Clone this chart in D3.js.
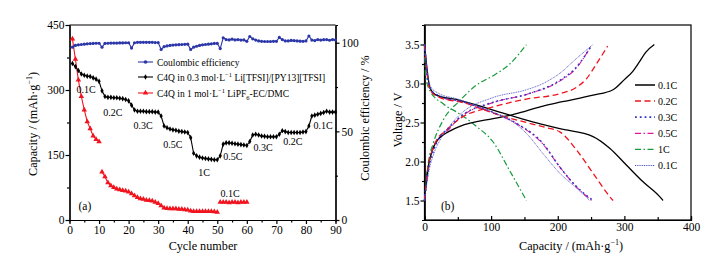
<!DOCTYPE html>
<html><head><meta charset="utf-8">
<script src="https://cdn.jsdelivr.net/npm/d3@7"></script>
<style>
body{margin:0;background:#fff;}
svg, svg text{font-family:"Liberation Serif","Tinos","Times New Roman","DejaVu Serif",serif !important;}
</style></head>
<body><svg id="c" width="712" height="266"></svg>
<script>
// ---------- Data: panel (a) ----------
const cycles = d3.range(1, 91);
const coulombicEff = [97.5,98.5,98.8,99.0,99.2,99.4,99.5,99.6,99.7,99.7,
 97.5,99.6,99.7,99.8,99.8,99.8,99.9,99.9,100.0,100.0,
 97.0,100.0,100.2,100.2,100.2,100.2,100.2,100.2,100.1,100.1,
 96.2,97.8,98.2,98.5,98.7,98.8,98.9,99.0,99.1,99.2,
 96.2,97.5,98.0,98.5,98.8,99.0,99.2,99.4,99.6,99.6,
 96.7,102.8,101.8,101.6,102.0,101.6,101.8,101.5,101.6,100.8,
 103.5,102.2,101.5,101.0,100.8,100.7,100.7,100.7,100.8,100.8,
 103.0,101.8,101.0,101.0,101.3,101.2,101.0,100.9,100.8,101.0,
 103.8,101.5,101.2,101.8,101.5,101.7,101.8,101.4,101.8,101.6];
const capIL = [361,354,345,337,334,332,331,328,325,320,
 298,285,283,283,282,282,281,280,278,275,
 265,254,251,251,251,250,250,250,249,249,
 240,217,213,210,208,207,205,204,203,202,
 190,154,148,145,143,142,141,140,139,139,
 148,175,178,178,177,176,175,174,173,172,
 181,196,198,196,194,193,192,192,192,192,
 198,206,204,202,202,202,202,202,203,204,
 217,240,242,244,246,248,251,249,249,249];
const capEC_c1 = d3.range(1, 11);
const capEC_v1 = [418,371,323,285,254,227,211,194,186,181];
const capEC_c2 = d3.range(11, 51);
const capEC_v2 = [111,100,86,79,75,72,70,68,67,65,61,56,52,49,48,46,45,44,41,38,
 33,28,27,26,26,26,25,25,24,23,21,20,20,20,20,20,20,20,19,18];
const capEC_c3 = d3.range(51, 61);
const capEC_v3 = [41,41,41,40,41,41,40,41,41,41];
const rateLabelsA = ["0.1C","0.2C","0.3C","0.5C","1C","0.5C","0.3C","0.2C","0.1C","0.1C"];
const rateLabelCycles = [5.6,14.7,24.9,35,45.5,55.3,65.5,75.6,85.8,54.3];
const rateLabelCaps = [292,239,209,167,102.5,139,160,172,211,54];
const legendA = ["Coulombic efficiency","C4Q in 0.3 mol·L","C4Q in 1 mol·L"];
const xTicksA = d3.range(0, 91, 10);
const yTicksA = [0,150,300,450];
const y2TicksA = [0,50,100];

// ---------- Data: panel (b) ----------
const ratesB = ["0.1C","0.2C","0.3C","0.5C","1C","0.1C"];
const dis_01 = [[0,3.5],[1,3.42],[3.5,3.21],[8,2.95],[18,2.85],[53,2.785],[103,2.66],[153,2.53],[203,2.42],[253,2.32],[278,2.17],[303,1.955],[328,1.74],[353,1.55],[358,1.5]];
const chg_01 = [[0,1.5],[5,1.9],[12,2.15],[20,2.28],[28,2.34],[40,2.4],[53,2.45],[103,2.55],[128,2.59],[153,2.65],[178,2.71],[203,2.76],[253,2.85],[283,2.92],[300,3.05],[312,3.15],[322,3.27],[332,3.4],[345,3.5]];
const dis_02 = [[0,3.5],[2,3.3],[5,3.05],[10,2.9],[20,2.83],[60,2.75],[110,2.6],[153,2.5],[180,2.44],[203,2.38],[228,2.15],[253,1.85],[278,1.55],[283,1.5]];
const chg_02 = [[0,1.5],[5,1.9],[12,2.15],[20,2.3],[30,2.38],[53,2.55],[103,2.7],[153,2.8],[203,2.87],[228,2.95],[243,3.06],[258,3.25],[275,3.48]];
const dis_03 = [[0,3.5],[2,3.3],[5,3.05],[10,2.92],[20,2.85],[60,2.76],[103,2.63],[140,2.48],[178,2.23],[203,1.93],[228,1.68],[253,1.5]];
const chg_03 = [[0,1.5],[5,1.85],[12,2.1],[22,2.3],[35,2.42],[53,2.57],[103,2.76],[153,2.86],[203,3.04],[228,3.21],[251,3.49]];
const dis_05 = [[0,3.5],[5,3.05],[10,2.91],[20,2.84],[60,2.755],[103,2.625],[140,2.475],[178,2.22],[203,1.93],[228,1.675],[251,1.5]];
const chg_05 = [[0,1.5],[5,1.9],[12,2.15],[22,2.3],[35,2.4],[53,2.56],[103,2.755],[153,2.86],[203,3.03],[228,3.2],[250,3.48]];
const dis_1 = [[0,3.5],[1,3.2],[2,3.08],[8,2.91],[28,2.74],[53,2.61],[78,2.45],[103,2.25],[128,1.88],[153,1.5]];
const chg_1 = [[0,1.5],[3,1.8],[6,2.0],[13,2.23],[28,2.53],[53,2.78],[78,2.98],[103,3.1],[128,3.25],[153,3.5]];
const dis_01b = [[0,3.5],[2,3.35],[5,3.1],[10,2.95],[20,2.88],[50,2.8],[103,2.63],[125,2.55],[153,2.36],[178,2.1],[203,1.85],[228,1.66],[248,1.5]];
const chg_01b = [[0,1.5],[6,1.85],[14,2.1],[25,2.3],[40,2.48],[53,2.6],[103,2.82],[153,2.92],[178,3.0],[203,3.13],[228,3.32],[253,3.5]];
const xTicksB = [0,100,200,300,400];
const yTicksB = [1.5,2.0,2.5,3.0,3.5];

const FONT = "Liberation Serif, Tinos, Times New Roman, DejaVu Serif, serif";
const svg = d3.select("#c").attr("font-family", FONT);
const BLUE = "#2b36a8", RED = "#f0141e";
const TICKFS = 11.5, TITLEFS = 12.2, SMALLFS = 10, LEGFS = 9.5;

// ================= Panel (a) =================
const xA = d3.scaleLinear().domain([0, 90]).range([69.5, 335.5]);
const yA = d3.scaleLinear().domain([0, 450]).range([220, 25]);
const y2A = d3.scaleLinear().domain([0, 110]).range([220, 25]);
const gA = svg.append("g");

function axisStyle(g){
  g.attr("font-family", FONT);
  g.selectAll("path,line").attr("stroke","#000").attr("stroke-width",1.2);
  g.selectAll("text").attr("font-family",FONT).attr("font-size",TICKFS).attr("fill","#000"); }

// minor ticks
gA.append("g").attr("transform","translate(0,220)")
  .call(d3.axisBottom(xA).tickValues(d3.range(5,90,10)).tickSize(2.5).tickFormat(""))
  .call(axisStyle);
gA.append("g").attr("transform","translate(69.5,0)")
  .call(d3.axisLeft(yA).tickValues([75,225,375]).tickSize(2.5).tickFormat(""))
  .call(axisStyle);
gA.append("g").attr("transform","translate(335.5,0)")
  .call(d3.axisRight(y2A).tickValues([25,75]).tickSize(2.5).tickFormat(""))
  .call(axisStyle);
gA.append("g").attr("transform","translate(0,220)")
  .call(d3.axisBottom(xA).tickValues(xTicksA).tickSize(4).tickSizeOuter(0).tickPadding(2))
  .call(axisStyle);
gA.append("g").attr("transform","translate(69.5,0)")
  .call(d3.axisLeft(yA).tickValues(yTicksA).tickSize(4).tickSizeOuter(0).tickPadding(1))
  .call(axisStyle);
gA.append("g").attr("transform","translate(335.5,0)")
  .call(d3.axisRight(y2A).tickValues(y2TicksA).tickSize(4).tickSizeOuter(0).tickPadding(2))
  .call(axisStyle);
gA.append("line").attr("x1",69.5).attr("x2",335.5).attr("y1",25).attr("y2",25).attr("stroke","#000").attr("stroke-width",1.2);

const lineA = d3.line().x(d=>xA(d[0])).y(d=>yA(d[1]));
const lineA2 = d3.line().x(d=>xA(d[0])).y(d=>y2A(d[1]));

// red series (EC/DMC)
const redSegs = [[capEC_c1,capEC_v1],[capEC_c2,capEC_v2],[capEC_c3,capEC_v3]];
const triangle = d3.symbol().type(d3.symbolTriangle).size(13);
redSegs.forEach(([c,v])=>{
  const pts = c.map((ci,i)=>[ci,v[i]]);
  gA.append("path").attr("d",lineA(pts)).attr("fill","none").attr("stroke",RED).attr("stroke-width",1.1);
  gA.selectAll(null).data(pts).join("path").attr("d",triangle)
    .attr("transform",d=>`translate(${xA(d[0])},${yA(d[1])})`).attr("fill",RED);
});
// black series (IL)
const ilPts = cycles.map((c,i)=>[c,capIL[i]]);
gA.append("path").attr("d",lineA(ilPts)).attr("fill","none").attr("stroke","#000").attr("stroke-width",1.1);
const diamond = d3.symbol().type(d3.symbolDiamond).size(9);
gA.selectAll(null).data(ilPts).join("path").attr("d",diamond)
  .attr("transform",d=>`translate(${xA(d[0])},${yA(d[1])})`).attr("fill","#000");
// blue series (CE)
const cePts = cycles.map((c,i)=>[c,coulombicEff[i]]);
gA.append("path").attr("d",lineA2(cePts)).attr("fill","none").attr("stroke",BLUE).attr("stroke-width",1.1);
gA.selectAll(null).data(cePts).join("circle").attr("cx",d=>xA(d[0])).attr("cy",d=>y2A(d[1]))
  .attr("r",1.6).attr("fill",BLUE);

// rate labels
rateLabelsA.forEach((t,i)=>{
  gA.append("text").attr("x",xA(rateLabelCycles[i])).attr("y",yA(rateLabelCaps[i]))
    .attr("text-anchor","middle").attr("font-size",SMALLFS).text(t);
});
gA.append("text").attr("x",xA(5.2)).attr("y",yA(23)).attr("text-anchor","middle").attr("font-size",11.5).text("(a)");

// legend (a)
const legY = [62,77,93];
const legCols = [BLUE,"#000",RED];
legY.forEach((y,i)=>{
  gA.append("line").attr("x1",138).attr("x2",153).attr("y1",y).attr("y2",y).attr("stroke",legCols[i]).attr("stroke-width",1.1);
  if(i===0) gA.append("circle").attr("cx",145.5).attr("cy",y).attr("r",1.8).attr("fill",BLUE);
  else gA.append("path").attr("d",i===1?diamond:triangle).attr("transform",`translate(145.5,${y})`).attr("fill",legCols[i]);
});
const lt = gA.append("g").attr("font-size",LEGFS);
lt.append("text").attr("x",157).attr("y",legY[0]+3.5).text(legendA[0]);
const t2 = lt.append("text").attr("x",157).attr("y",legY[1]+3.5);
t2.append("tspan").text(legendA[1]);
t2.append("tspan").attr("font-size",6.5).attr("dy",-4).text("−1");
t2.append("tspan").attr("dy",4).text(" Li[TFSI]/[PY13][TFSI]");
const t3 = lt.append("text").attr("x",157).attr("y",legY[2]+3.5);
t3.append("tspan").text(legendA[2]);
t3.append("tspan").attr("font-size",6.5).attr("dy",-4).text("−1");
t3.append("tspan").attr("dy",4).text(" LiPF");
t3.append("tspan").attr("font-size",6.5).attr("dy",3).text("6");
t3.append("tspan").attr("dy",-3).text("-EC/DMC");

// axis titles (a)
gA.append("text").attr("x",203).attr("y",250).attr("text-anchor","middle").attr("font-size",TITLEFS).text("Cycle number");
const yl = gA.append("text").attr("transform","translate(37,124) rotate(-90)").attr("text-anchor","middle").attr("font-size",TITLEFS);
yl.append("tspan").text("Capacity / (mAh·g");
yl.append("tspan").attr("font-size",8).attr("dy",-5).text("−1");
yl.append("tspan").attr("dy",5).text(")");
gA.append("text").attr("transform","translate(369,118) rotate(-90)").attr("text-anchor","middle").attr("font-size",TITLEFS).text("Coulombic efficiency / %");

// ================= Panel (b) =================
const xB = d3.scaleLinear().domain([0, 400]).range([424.5, 691]);
const yB = d3.scaleLinear().domain([1.25, 3.75]).range([220, 25]);
const gB = svg.append("g");
gB.append("g").attr("transform","translate(0,220)")
  .call(d3.axisTop(xB).tickValues([50,150,250,350]).tickSize(3).tickFormat(""))
  .call(axisStyle);
gB.append("g").attr("transform","translate(424.5,0)")
  .call(d3.axisLeft(yB).tickValues([1.75,2.25,2.75,3.25]).tickSize(2.5).tickFormat(""))
  .call(axisStyle);
gB.append("g").attr("transform","translate(0,220)")
  .call(d3.axisTop(xB).tickValues(xTicksB).tickSize(4).tickSizeOuter(0).tickPadding(-15))
  .call(axisStyle);
gB.append("g").attr("transform","translate(424.5,0)")
  .call(d3.axisLeft(yB).tickValues(yTicksB).tickSize(4).tickSizeOuter(0).tickPadding(1).tickFormat(d3.format(".1f")))
  .call(axisStyle);
gB.append("rect").attr("x",424.5).attr("y",25).attr("width",691-424.5).attr("height",195)
  .attr("fill","none").attr("stroke","#000").attr("stroke-width",1.2);

const lineB = d3.line().x(d=>xB(d[0])).y(d=>yB(d[1])).curve(d3.curveMonotoneX);
const seriesB = [
  {name:ratesB[3], d:[dis_05,chg_05], color:"#e0179b", dash:"6,2.5,1.5,2.5", w:1.1},
  {name:ratesB[4], d:[dis_1,chg_1], color:"#159a3c", dash:"6,2.5,1.5,2.5", w:1.2},
  {name:ratesB[0], d:[dis_01,chg_01], color:"#000", dash:null, w:1.3},
  {name:ratesB[1], d:[dis_02,chg_02], color:RED, dash:"6,3.5", w:1.3},
  {name:ratesB[2], d:[dis_03,chg_03], color:"#2e33c8", dash:"1.8,3", w:1.5},
  {name:ratesB[5], d:[dis_01b,chg_01b], color:"#4a4fc0", dash:"1,0.8", w:0.9}
];
seriesB.forEach(s=>{
  s.d.forEach(pts=>{
    gB.append("path").attr("d",lineB(pts)).attr("fill","none").attr("stroke",s.color)
      .attr("stroke-width",s.w).attr("stroke-dasharray",s.dash);
  });
});
// legend (b)
const legOrder = [2,3,4,0,1,5];
legOrder.forEach((si,i)=>{
  const s = seriesB[si]; const y = 85 + i*16.1;
  gB.append("line").attr("x1",635).attr("x2",655).attr("y1",y).attr("y2",y).attr("stroke",s.color)
    .attr("stroke-width",s.w+0.2).attr("stroke-dasharray",s.dash);
  gB.append("text").attr("x",658).attr("y",y+3.5).attr("font-size",SMALLFS).text(s.name);
});
gB.append("text").attr("x",441).attr("y",210).attr("font-size",11.5).text("(b)");
gB.append("text").attr("transform","translate(402,120) rotate(-90)").attr("text-anchor","middle").attr("font-size",TITLEFS).text("Voltage / V");
const xl = gB.append("text").attr("x",571).attr("y",250).attr("text-anchor","middle").attr("font-size",TITLEFS);
xl.append("tspan").text("Capacity / (mAh·g");
xl.append("tspan").attr("font-size",8).attr("dy",-5).text("−1");
xl.append("tspan").attr("dy",5).text(")");
</script></body></html>
